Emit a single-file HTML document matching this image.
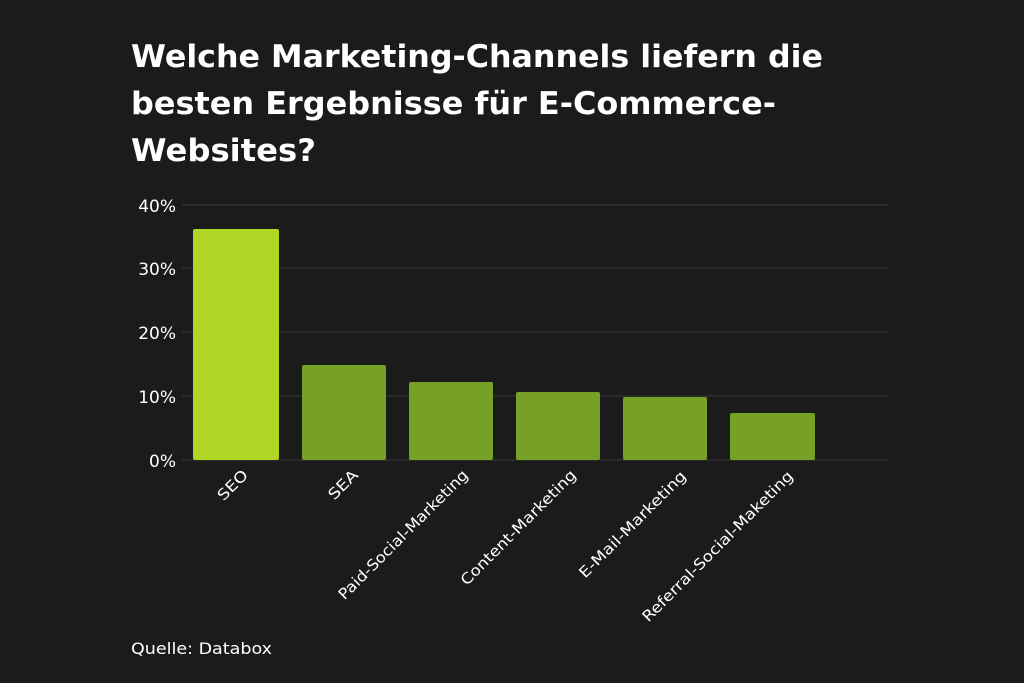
<!DOCTYPE html>
<html><head><meta charset="utf-8"><style>
html,body{margin:0;padding:0;background:#1b1b1b;}
svg{display:block;}
</style></head><body>
<svg width="1024" height="683" viewBox="0 0 1024 683" xmlns="http://www.w3.org/2000/svg" font-family="DejaVu Sans, Liberation Sans, sans-serif">
<rect width="1024" height="683" fill="#1b1b1b"/>
<g font-size="31" font-weight="bold" fill="#ffffff">
<text x="131" y="67" textLength="692" lengthAdjust="spacingAndGlyphs">Welche Marketing-Channels liefern die</text>
<text x="131" y="114" textLength="645" lengthAdjust="spacingAndGlyphs">besten Ergebnisse für E-Commerce-</text>
<text x="131" y="161" textLength="185" lengthAdjust="spacingAndGlyphs">Websites?</text>
</g>
<g stroke="#3a3a3a" stroke-width="1">
<line x1="182" y1="205" x2="888" y2="205"/>
<line x1="182" y1="268" x2="888" y2="268"/>
<line x1="182" y1="332" x2="888" y2="332"/>
<line x1="182" y1="396" x2="888" y2="396"/>
<line x1="182" y1="460" x2="888" y2="460"/>
</g>
<g font-size="17" fill="#ffffff" text-anchor="end">
<text x="176" y="212">40%</text>
<text x="176" y="275">30%</text>
<text x="176" y="339">20%</text>
<text x="176" y="403">10%</text>
<text x="176" y="467">0%</text>
</g>
<rect x="193" y="229" width="86" height="231" rx="2" fill="#b2d626"/>
<g fill="#76a026">
<rect x="302" y="365" width="84" height="95" rx="2"/>
<rect x="409" y="382" width="84" height="78" rx="2"/>
<rect x="516" y="392" width="84" height="68" rx="2"/>
<rect x="623" y="397" width="84" height="63" rx="2"/>
<rect x="730" y="413" width="85" height="47" rx="2"/>
</g>
<g font-size="15" fill="#ffffff" text-anchor="end">
<text transform="translate(249,476) rotate(-45)" textLength="36" lengthAdjust="spacingAndGlyphs">SEO</text>
<text transform="translate(359,476) rotate(-45)" textLength="35" lengthAdjust="spacingAndGlyphs">SEA</text>
<text transform="translate(469,476) rotate(-45)" textLength="176" lengthAdjust="spacingAndGlyphs">Paid-Social-Marketing</text>
<text transform="translate(577,476) rotate(-45)" textLength="156" lengthAdjust="spacingAndGlyphs">Content-Marketing</text>
<text transform="translate(687,477) rotate(-45)" textLength="144" lengthAdjust="spacingAndGlyphs">E-Mail-Marketing</text>
<text transform="translate(794,477) rotate(-45)" textLength="206" lengthAdjust="spacingAndGlyphs">Referral-Social-Maketing</text>
</g>
<text x="131" y="654" font-size="16" fill="#ffffff" textLength="141" lengthAdjust="spacingAndGlyphs">Quelle: Databox</text>
</svg>
</body></html>
